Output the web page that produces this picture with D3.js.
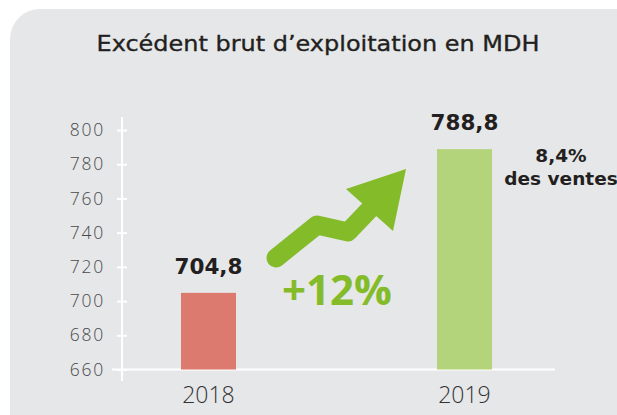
<!DOCTYPE html>
<html>
<head>
<meta charset="utf-8">
<script src="https://cdn.jsdelivr.net/npm/d3@7"></script>
<style>
  body { margin: 0; background: #fff; }
  svg { display: block; font-family: "Open Sans", sans-serif; }
  .tick text { fill: #4a4a4a; font-weight: 300; }
</style>
</head>
<body>
<script>
// data
var years = ["2018", "2019"];
var values = [704.8, 788.8];
var valueLabels = ["704,8", "788,8"];
var yTicks = [660, 680, 700, 720, 740, 760, 780, 800];
var growthLabel = "+12%";
var noteLines = ["8,4%", "des ventes"];
var title = "Excédent brut d\u2019exploitation en MDH";

var W = 617, H = 415;
var svg = d3.select("body").append("svg").attr("width", W).attr("height", H);

// card background
svg.append("rect").attr("x", 10).attr("y", 9).attr("width", 640).attr("height", 440)
    .attr("rx", 30).attr("fill", "#e6e7e9");

svg.append("text").attr("x", 318).attr("y", 51).attr("text-anchor", "middle")
    .attr("font-family", "DejaVu Sans")
    .attr("font-size", 21.5).attr("fill", "#231f20")
    .attr("stroke", "#231f20").attr("stroke-width", 0.35)
    .attr("textLength", 443).attr("lengthAdjust", "spacingAndGlyphs")
    .text(title);

var y = d3.scaleLinear().domain([660, 800]).range([369.5, 130]);
var x = d3.scalePoint().domain(years).range([208.5, 464.5]);
var barW = 55;
var colors = ["#dc7a70", "#b3d47a"];

// baseline
svg.append("line").attr("x1", 112).attr("x2", 555).attr("y1", y(660)).attr("y2", y(660))
    .attr("stroke", "#fff").attr("stroke-width", 2);

// y axis
var yAxis = d3.axisLeft(y).tickValues(yTicks).tickSize(5).tickPadding(12).tickFormat(d3.format("d"));
var gy = svg.append("g").attr("transform", "translate(122,0)").call(yAxis);
gy.select(".domain").remove();
gy.append("line").attr("x1", 0).attr("x2", 0).attr("y1", 117).attr("y2", 381)
    .attr("stroke", "#fff").attr("stroke-width", 2);
gy.selectAll(".tick line").attr("stroke", "#fff").attr("stroke-width", 2).attr("x1", 5).attr("x2", -5);
gy.selectAll(".tick text").attr("font-size", 17.5).attr("font-family", "Open Sans")
    .attr("letter-spacing", 1.8);

// bars
svg.selectAll(".bar").data(values).enter().append("rect").classed("bar", true)
    .attr("x", function(d, i) { return x(years[i]) - barW / 2; })
    .attr("y", function(d) { return y(d); })
    .attr("width", barW)
    .attr("height", function(d) { return y(660) - y(d); })
    .attr("fill", function(d, i) { return colors[i]; });

// value labels
svg.selectAll(".val").data(values).enter().append("text").classed("val", true)
    .attr("x", function(d, i) { return x(years[i]); })
    .attr("y", function(d) { return y(d) - 19; })
    .attr("text-anchor", "middle").attr("font-family", "DejaVu Sans")
    .attr("font-size", 21.5).attr("font-weight", 700)
    .attr("fill", "#231f20")
    .text(function(d, i) { return valueLabels[i]; });

// year labels
svg.selectAll(".year").data(years).enter().append("text").classed("year", true)
    .attr("x", function(d) { return x(d); })
    .attr("y", 403)
    .attr("text-anchor", "middle").attr("font-size", 23).attr("font-weight", 300)
    .attr("fill", "#333")
    .text(function(d) { return d; });

// note
svg.selectAll(".note").data(noteLines).enter().append("text").classed("note", true)
    .attr("x", 561).attr("y", function(d, i) { return 162 + i * 23; })
    .attr("text-anchor", "middle").attr("font-family", "DejaVu Sans")
    .attr("font-size", 18.5).attr("font-weight", 700)
    .attr("fill", "#231f20")
    .text(function(d) { return d; });

// growth arrow (decoration)
var green = "#84bb29";
svg.append("path")
    .attr("d", d3.line()([[276, 258], [317, 225], [348, 232], [370, 209]]))
    .attr("fill", "none").attr("stroke", green).attr("stroke-width", 19)
    .attr("stroke-linecap", "round").attr("stroke-linejoin", "round");
svg.append("path")
    .attr("d", "M346,189 L406,169 L393,231 Z")
    .attr("fill", green);

svg.append("text").attr("x", 337).attr("y", 305).attr("text-anchor", "middle")
    .attr("font-size", 42).attr("font-weight", 700).attr("fill", green)
    .text(growthLabel);
</script>
</body>
</html>
